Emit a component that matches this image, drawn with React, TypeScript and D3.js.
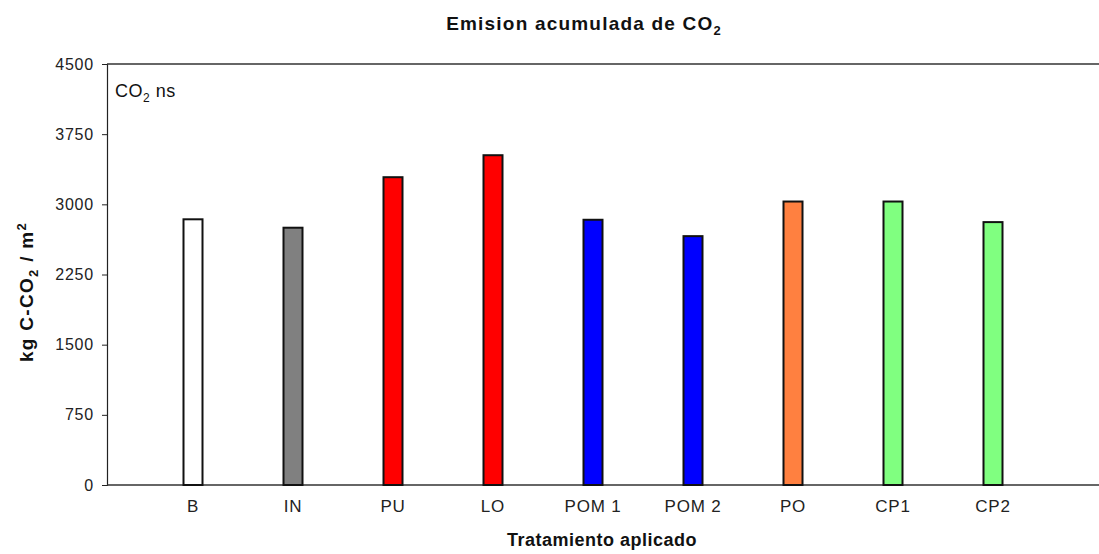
import React, { useEffect, useRef } from 'react';
import * as d3 from 'd3';

const categories = ['B', 'IN', 'PU', 'LO', 'POM 1', 'POM 2', 'PO', 'CP1', 'CP2'];
const values = [2840, 2750, 3290, 3525, 2835, 2660, 3030, 3030, 2810];
const colors = ['#ffffff', '#808080', '#ff0000', '#ff0000', '#0000ff', '#0000ff', '#ff8040', '#80ff80', '#80ff80'];
const yTicks = [0, 750, 1500, 2250, 3000, 3750, 4500];

export default function App() {
  const ref = useRef<SVGSVGElement>(null);

  useEffect(() => {
    const svg = d3.select(ref.current);
    svg.selectAll('*').remove();
    const left = 107, right = 1099, top = 64, bottom = 485;
    const font = 'Liberation Sans, Arial, sans-serif';

    const x = d3.scaleBand().domain(categories).range([143, 1043]).paddingInner(0.81).paddingOuter(0.405);
    const y = d3.scaleLinear().domain([0, 4500]).range([bottom, top]);

    // y axis
    const yAxis = svg.append('g')
      .attr('transform', `translate(${left},0)`)
      .call(d3.axisLeft(y).tickValues(yTicks).tickSize(5).tickPadding(8).tickFormat(d3.format('d')));
    yAxis.select('.domain').attr('stroke', '#222').attr('stroke-width', 1.2);
    yAxis.selectAll('.tick line').attr('stroke', '#222');
    yAxis.selectAll('text').attr('font-family', font).attr('font-size', 16)
      .attr('letter-spacing', 0.8).attr('fill', '#222');

    // top and bottom lines
    svg.append('line').attr('x1', left).attr('x2', right).attr('y1', top).attr('y2', top)
      .attr('stroke', '#333').attr('stroke-width', 1.5);
    svg.append('line').attr('x1', left).attr('x2', right).attr('y1', bottom).attr('y2', bottom)
      .attr('stroke', '#333').attr('stroke-width', 1.5);

    // bars
    svg.append('g').selectAll('rect')
      .data(categories)
      .join('rect')
      .attr('x', d => x(d)!)
      .attr('width', x.bandwidth())
      .attr('y', (d, i) => y(values[i]))
      .attr('height', (d, i) => bottom - y(values[i]))
      .attr('fill', (d, i) => colors[i])
      .attr('stroke', '#111')
      .attr('stroke-width', 2);

    // x labels
    svg.append('g').selectAll('text')
      .data(categories)
      .join('text')
      .attr('x', d => x(d)! + x.bandwidth() / 2)
      .attr('y', 512)
      .attr('text-anchor', 'middle')
      .attr('font-family', font)
      .attr('font-size', 17)
      .attr('letter-spacing', 0.8)
      .attr('fill', '#222')
      .text(d => d);

    // title
    const title = svg.append('text')
      .attr('x', 584).attr('y', 30)
      .attr('text-anchor', 'middle')
      .attr('font-family', font).attr('font-size', 19).attr('font-weight', 'bold')
      .attr('letter-spacing', 1.2)
      .attr('fill', '#111');
    title.append('tspan').text('Emision acumulada de CO');
    title.append('tspan').attr('font-size', 13).attr('dy', 5).text('2');

    // x title
    svg.append('text')
      .attr('x', 602).attr('y', 546)
      .attr('text-anchor', 'middle')
      .attr('font-family', font).attr('font-size', 18).attr('font-weight', 'bold')
      .attr('letter-spacing', 0.5)
      .attr('fill', '#111')
      .text('Tratamiento aplicado');

    // y title
    const yt = svg.append('text')
      .attr('transform', 'translate(33,292) rotate(-90)')
      .attr('text-anchor', 'middle')
      .attr('font-family', font).attr('font-size', 19).attr('font-weight', 'bold')
      .attr('letter-spacing', 1.3)
      .attr('fill', '#111');
    yt.append('tspan').text('kg C-CO');
    yt.append('tspan').attr('font-size', 13).attr('dy', 5).text('2');
    yt.append('tspan').attr('dy', -5).text(' / m');
    yt.append('tspan').attr('font-size', 13).attr('dy', -7).text('2');

    // annotation
    const ann = svg.append('text')
      .attr('x', 115).attr('y', 97)
      .attr('font-family', font).attr('font-size', 18)
      .attr('letter-spacing', 0.5)
      .attr('fill', '#111');
    ann.append('tspan').text('CO');
    ann.append('tspan').attr('font-size', 12).attr('dy', 5).text('2');
    ann.append('tspan').attr('dy', -5).text(' ns');
  }, []);

  return (
    <svg ref={ref} width={1099} height={554}
      style={{ position: 'absolute', left: 0, top: 0, background: '#fff' }} />
  );
}
